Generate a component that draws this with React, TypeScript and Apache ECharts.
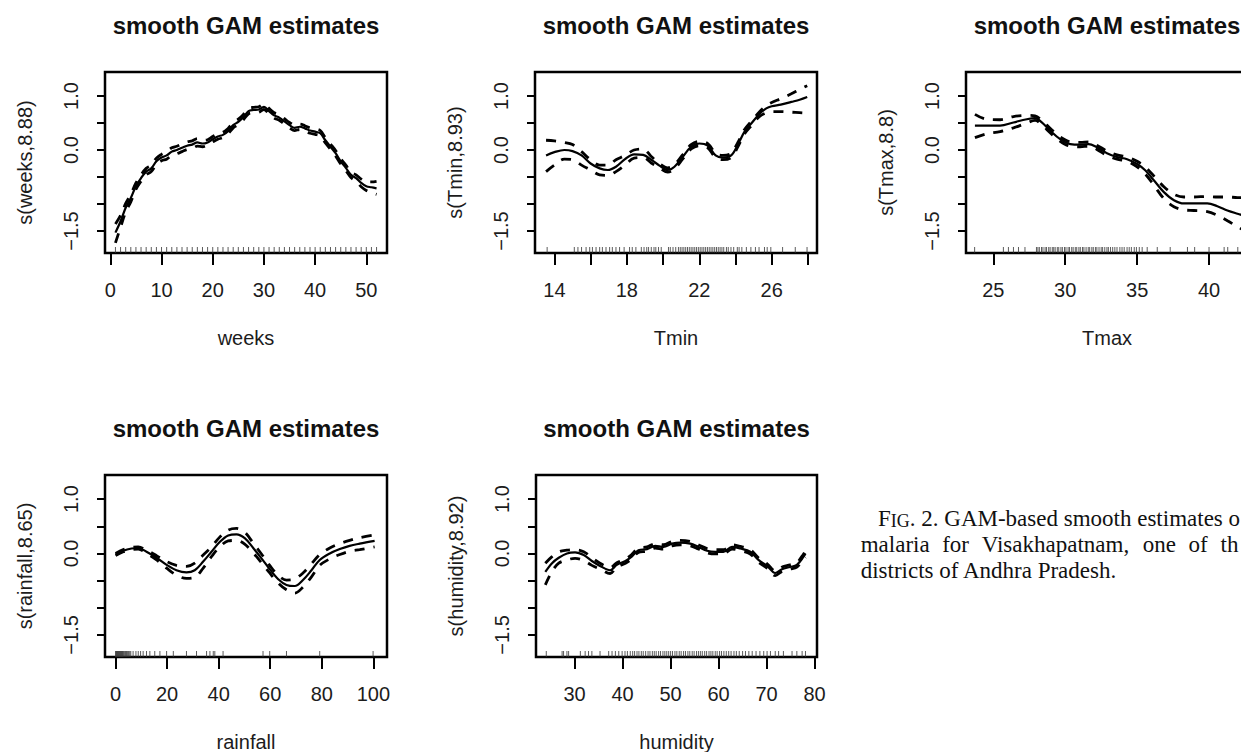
import React, { useEffect, useRef } from "react";
import * as echarts from "echarts";

// ---------- data ----------
const yTicks = [-1.5, -1, -0.5, 0, 0.5, 1];
const yLabels = [-1.5, 0, 1];

// weeks
const weeksX = [1,2,3,4,5,6,7,8,9,10,11,12,13,14,15,16,17,18,19,20,21,22,23,24,25,26,27,28,29,30,31,32,33,34,35,36,37,38,39,40,41,42,43,44,45,46,47,48,49,50,51,52];
const weeksFit = [-1.53,-1.32,-1.07,-0.89,-0.67,-0.52,-0.40,-0.34,-0.21,-0.14,-0.10,-0.03,0.00,0.04,0.08,0.10,0.14,0.12,0.14,0.20,0.25,0.28,0.35,0.46,0.52,0.61,0.72,0.74,0.75,0.80,0.72,0.64,0.60,0.53,0.46,0.41,0.43,0.40,0.36,0.34,0.31,0.18,0.06,-0.06,-0.21,-0.33,-0.46,-0.52,-0.61,-0.67,-0.69,-0.71];
const weeksUpper = [-1.37,-1.21,-0.99,-0.82,-0.61,-0.46,-0.34,-0.28,-0.15,-0.08,-0.03,0.04,0.07,0.11,0.15,0.17,0.21,0.18,0.19,0.25,0.30,0.33,0.40,0.51,0.57,0.66,0.77,0.79,0.80,0.85,0.77,0.69,0.65,0.58,0.51,0.46,0.48,0.45,0.41,0.39,0.36,0.23,0.11,-0.01,-0.16,-0.28,-0.41,-0.46,-0.54,-0.59,-0.59,-0.58];
const weeksLower = [-1.72,-1.43,-1.15,-0.96,-0.73,-0.58,-0.46,-0.40,-0.27,-0.20,-0.17,-0.10,-0.07,-0.03,0.01,0.03,0.07,0.06,0.09,0.15,0.20,0.23,0.30,0.41,0.47,0.56,0.67,0.69,0.70,0.75,0.67,0.59,0.55,0.48,0.41,0.36,0.38,0.35,0.31,0.29,0.26,0.13,0.01,-0.11,-0.26,-0.38,-0.51,-0.58,-0.68,-0.75,-0.79,-0.82];
const weeksRug = [1,2,3,4,5,6,7,8,9,10,11,12,13,14,15,16,17,18,19,20,21,22,23,24,25,26,27,28,29,30,31,32,33,34,35,36,37,38,39,40,41,42,43,44,45,46,47,48,49,50,51,52];
const weeksTicks = [0, 10, 20, 30, 40, 50];
const weeksLabels = [0, 10, 20, 30, 40, 50];

// Tmin
const tminX = [13.54,14.0,14.55,15.0,15.5,16.0,16.5,16.95,17.4,17.9,18.4,18.9,19.35,19.8,20.26,20.63,21.1,21.55,22.0,22.47,22.9,23.3,23.76,24.13,24.5,24.87,25.33,25.7,26.0,26.5,27.08,27.54,27.96];
const tminFit = [-0.10,-0.04,0.00,-0.02,-0.10,-0.25,-0.34,-0.37,-0.31,-0.17,-0.08,-0.09,-0.18,-0.29,-0.37,-0.31,-0.12,0.06,0.12,0.08,-0.10,-0.14,-0.10,0.10,0.34,0.49,0.67,0.77,0.81,0.84,0.89,0.93,0.98];
const tminUpper = [0.18,0.17,0.14,0.10,-0.03,-0.18,-0.28,-0.28,-0.18,-0.10,0.00,0.02,-0.12,-0.25,-0.33,-0.27,-0.08,0.10,0.16,0.12,-0.06,-0.10,-0.06,0.14,0.38,0.53,0.71,0.82,0.88,0.95,1.04,1.12,1.19];
const tminLower = [-0.40,-0.28,-0.17,-0.18,-0.28,-0.37,-0.46,-0.47,-0.40,-0.28,-0.15,-0.14,-0.24,-0.33,-0.41,-0.35,-0.16,0.02,0.08,0.04,-0.14,-0.18,-0.14,0.06,0.30,0.45,0.62,0.69,0.71,0.71,0.70,0.69,0.68];
const tminRug = [13.6,15.1,15.3,15.5,15.75,15.95,16.1,16.3,16.5,16.65,16.85,17.05,17.2,17.4,17.6,17.85,18.15,18.3,18.5,18.8,18.95,19.1,19.2,19.35,19.5,19.6,19.75,19.9,20.3,20.4,20.55,20.7,20.85,20.95,21.05,21.15,21.25,21.35,21.45,21.55,21.65,21.75,21.85,21.95,22.05,22.15,22.25,22.35,22.45,22.55,22.65,22.75,22.85,22.95,23.05,23.15,23.25,23.35,23.5,23.6,23.75,23.9,24.1,24.2,24.35,24.6,24.85,25.1,25.3,25.6,25.75,25.95,26.6,27.3,27.95];
const tminTicks = [14, 16, 18, 20, 22, 24, 26, 28];
const tminLabels = [14, 18, 22, 26];

// Tmax
const tmaxX = [23.72,24.53,25.47,26.4,27.33,27.9,28.37,28.95,29.65,30.35,31.05,31.63,32.2,32.9,33.6,34.3,35.0,35.58,36.16,36.86,37.56,38.26,38.95,39.88,40.58,41.28,41.98,42.5];
const tmaxFit = [0.45,0.45,0.45,0.51,0.57,0.59,0.51,0.36,0.20,0.11,0.10,0.11,0.05,-0.06,-0.13,-0.17,-0.26,-0.38,-0.56,-0.78,-0.93,-0.99,-0.99,-0.99,-1.04,-1.12,-1.18,-1.22];
const tmaxUpper = [0.66,0.57,0.56,0.62,0.64,0.63,0.55,0.40,0.24,0.15,0.14,0.15,0.09,-0.02,-0.09,-0.13,-0.21,-0.32,-0.48,-0.68,-0.82,-0.87,-0.87,-0.86,-0.87,-0.87,-0.88,-0.88];
const tmaxLower = [0.23,0.30,0.34,0.41,0.50,0.55,0.47,0.32,0.16,0.07,0.06,0.07,0.01,-0.10,-0.17,-0.21,-0.31,-0.45,-0.65,-0.90,-1.05,-1.11,-1.12,-1.14,-1.21,-1.31,-1.42,-1.50];
const tmaxRug = [23.7,25.7,26.05,26.4,26.75,27.2,28.0,28.1,28.2,28.35,28.45,28.6,28.7,28.85,28.95,29.1,29.2,29.3,29.45,29.55,29.7,29.8,29.95,30.05,30.2,30.3,30.45,30.55,30.7,30.8,30.95,31.05,31.2,31.3,31.45,31.6,31.7,31.85,31.95,32.1,32.2,32.35,32.5,32.6,32.75,32.9,33.0,33.15,33.3,33.45,33.6,33.8,33.95,34.1,34.3,34.45,34.6,34.8,34.95,35.15,35.35,35.7,36.4,37.3,38.5,39.0,40.0,41.05,41.3,42.0];
const tmaxTicks = [25, 30, 35, 40];
const tmaxLabels = [25, 30, 35, 40];

// rainfall
const rainX = [0,3,6.2,8.8,12,15.9,19.8,23.6,27.5,30.7,34,37.2,40.4,43.7,46.9,50.1,53.4,56.6,59.8,63,66.3,69.5,72.7,76,79.2,83.1,87,90.8,94.7,100.5];
const rainFit = [-0.02,0.05,0.09,0.10,0.03,-0.08,-0.21,-0.31,-0.35,-0.31,-0.15,0.03,0.21,0.33,0.35,0.28,0.10,-0.09,-0.29,-0.47,-0.58,-0.60,-0.49,-0.31,-0.12,0.00,0.08,0.14,0.18,0.23];
const rainUpper = [0.00,0.07,0.11,0.12,0.06,-0.04,-0.15,-0.22,-0.24,-0.18,-0.03,0.12,0.30,0.43,0.46,0.39,0.19,-0.01,-0.22,-0.40,-0.49,-0.47,-0.36,-0.19,-0.02,0.10,0.18,0.24,0.29,0.34];
const rainLower = [-0.04,0.03,0.07,0.08,0.00,-0.12,-0.27,-0.40,-0.46,-0.44,-0.27,-0.06,0.12,0.23,0.24,0.17,0.01,-0.17,-0.36,-0.54,-0.67,-0.73,-0.62,-0.43,-0.22,-0.10,-0.02,0.04,0.07,0.12];
const rainRug = [0,0.2,0.4,0.6,0.8,1,1.2,1.4,1.6,1.8,2,2.2,2.4,2.6,2.8,3,3.3,3.6,3.9,4.2,4.5,4.8,5.1,5.5,5.9,6.8,7.9,8.8,9.7,10.7,12.0,13.3,15.2,17.2,19.8,22.4,27.5,31.4,35.3,36.6,37.9,38.5,41.7,57.2,59.8,66.3,79.2,99.9];
const rainTicks = [0, 20, 40, 60, 80, 100];
const rainLabels = [0, 20, 40, 60, 80, 100];

// humidity
const humX = [23.9,25.3,26.7,28.4,30.1,31.9,33.6,35.3,37.4,38.8,40.6,41.9,43.3,45.1,46.8,48.5,50.3,52.0,54.1,55.8,57.6,59.3,61.0,62.8,64.5,66.6,68.3,70.1,71.8,73.2,74.9,76.3,77.7,78.1];
const humFit = [-0.34,-0.18,-0.08,0.00,0.02,-0.03,-0.14,-0.23,-0.31,-0.21,-0.14,-0.06,0.06,0.08,0.14,0.12,0.18,0.20,0.18,0.12,0.05,0.03,0.03,0.12,0.09,0.03,-0.12,-0.23,-0.36,-0.29,-0.25,-0.21,-0.06,0.00];
const humUpper = [-0.18,-0.06,0.03,0.06,0.07,0.03,-0.08,-0.18,-0.26,-0.17,-0.10,-0.02,0.10,0.12,0.18,0.16,0.22,0.24,0.22,0.16,0.09,0.07,0.07,0.16,0.13,0.07,-0.08,-0.19,-0.32,-0.25,-0.21,-0.17,-0.01,0.05];
const humLower = [-0.58,-0.33,-0.18,-0.12,-0.09,-0.13,-0.22,-0.29,-0.37,-0.25,-0.18,-0.10,0.02,0.04,0.10,0.08,0.14,0.16,0.14,0.08,0.01,-0.01,-0.01,0.08,0.05,-0.01,-0.16,-0.27,-0.41,-0.33,-0.29,-0.25,-0.11,-0.07];
const humRug = [24.1,27.4,27.7,28.4,28.75,31.2,32.2,32.9,33.6,35.3,37.1,37.8,38.5,39.2,39.9,40.5,41.0,41.6,42.1,42.5,43.0,43.4,43.9,44.3,44.8,45.3,45.7,46.2,46.6,47.0,47.5,47.9,48.4,48.8,49.2,49.6,50.0,50.4,50.9,51.3,51.8,52.2,52.7,53.1,53.6,54.0,54.5,54.9,55.4,55.8,56.2,56.6,57.1,57.5,58.0,58.4,58.8,59.3,59.7,60.2,60.6,61.1,61.6,62.1,62.6,63.2,63.7,64.3,65.0,65.6,66.3,67.0,67.8,68.6,69.4,70.1,70.8,71.8,72.5,73.5,75.3,76.3,77.4,78.1];
const humTicks = [30, 40, 50, 60, 70, 80];
const humLabels = [30, 40, 50, 60, 70, 80];

const titleText = "smooth GAM estimates";
// the caption is cut at the right edge of the page in the reference
const captionLine1 = "{a|F}{b|IG}{a|. 2. GAM-based smooth estimates o}";
const captionLine2 = ["malaria", "for", "Visakhapatnam,", "one", "of", "th"];
const captionLine3 = "districts of Andhra Pradesh.";

// ---------- layout ----------
const Y_MIN = -1.907;
const Y_MAX = 1.444;
const SANS = "Liberation Sans, Arial, Helvetica, sans-serif";
const SERIF = "Liberation Serif, Times New Roman, serif";
const LABEL_COLOR = "#1c1c1c";

const panels = [
  { x: weeksX, fit: weeksFit, up: weeksUpper, lo: weeksLower, rug: weeksRug, ticks: weeksTicks, labels: weeksLabels,
    xName: "weeks", yName: "s(weeks,8.88)", xMin: -1.04, xMax: 54.04, left: 105, top: 72, width: 282, height: 181 },
  { x: tminX, fit: tminFit, up: tminUpper, lo: tminLower, rug: tminRug, ticks: tminTicks, labels: tminLabels,
    xName: "Tmin", yName: "s(Tmin,8.93)", xMin: 12.93, xMax: 28.5, left: 535, top: 72, width: 282, height: 181 },
  { x: tmaxX, fit: tmaxFit, up: tmaxUpper, lo: tmaxLower, rug: tmaxRug, ticks: tmaxTicks, labels: tmaxLabels,
    xName: "Tmax", yName: "s(Tmax,8.8)", xMin: 23.1, xMax: 42.71, left: 966, top: 72, width: 282, height: 181 },
  { x: rainX, fit: rainFit, up: rainUpper, lo: rainLower, rug: rainRug, ticks: rainTicks, labels: rainLabels,
    xName: "rainfall", yName: "s(rainfall,8.65)", xMin: -4.1, xMax: 105.3, left: 105, top: 475, width: 282, height: 182 },
  { x: humX, fit: humFit, up: humUpper, lo: humLower, rug: humRug, ticks: humTicks, labels: humLabels,
    xName: "humidity", yName: "s(humidity,8.92)", xMin: 21.96, xMax: 80.5, left: 536, top: 475, width: 281, height: 182 },
];

function fmtY(v: number) {
  return (v < 0 ? "\u2212" : "") + Math.abs(v).toFixed(1);
}

function buildOption() {
  const grid: any[] = [];
  const xAxis: any[] = [];
  const yAxis: any[] = [];
  const series: any[] = [];
  const graphic: any[] = [];

  panels.forEach((p, i) => {
    grid.push({
      left: p.left, top: p.top, width: p.width, height: p.height,
      show: true, borderColor: "#000", borderWidth: 2.5, backgroundColor: "rgba(0,0,0,0)",
      containLabel: false, outerBoundsMode: "none",
    });
    xAxis.push({
      gridIndex: i, type: "value", min: p.xMin, max: p.xMax, position: "bottom",
      axisLine: { show: false, onZero: false },
      axisTick: { show: true, inside: false, length: 12, lineStyle: { color: "#000", width: 2 }, customValues: p.ticks },
      axisLabel: { show: true, customValues: p.labels, fontSize: 20, color: LABEL_COLOR, fontFamily: SANS, margin: 27 },
      splitLine: { show: false },
      name: p.xName, nameLocation: "middle", nameGap: 75,
      nameTextStyle: { fontSize: 20, color: LABEL_COLOR, fontFamily: SANS },
    });
    yAxis.push({
      gridIndex: i, type: "value", min: Y_MIN, max: Y_MAX, position: "left",
      axisLine: { show: false, onZero: false },
      axisTick: { show: true, inside: false, length: 8, lineStyle: { color: "#000", width: 2 }, customValues: yTicks },
      axisLabel: { show: true, customValues: yLabels, rotate: 90, fontSize: 20, color: LABEL_COLOR, fontFamily: SANS, margin: 24, formatter: fmtY },
      splitLine: { show: false },
      name: p.yName, nameLocation: "middle", nameGap: 70,
      nameTextStyle: { fontSize: 20, color: LABEL_COLOR, fontFamily: SANS },
    });
    const pts = (ys: number[]) => p.x.map((xv, k) => [xv, ys[k]]);
    series.push({
      type: "line", xAxisIndex: i, yAxisIndex: i, data: pts(p.fit), symbol: "none", showSymbol: false,
      smooth: 0.35, silent: true, z: 4, lineStyle: { color: "#000", width: 2.2 },
    });
    series.push({
      type: "line", xAxisIndex: i, yAxisIndex: i, data: pts(p.up), symbol: "none", showSymbol: false,
      smooth: 0.35, silent: true, z: 3, lineStyle: { color: "#000", width: 2.8, type: [10, 9] },
    });
    series.push({
      type: "line", xAxisIndex: i, yAxisIndex: i, data: pts(p.lo), symbol: "none", showSymbol: false,
      smooth: 0.35, silent: true, z: 3, lineStyle: { color: "#000", width: 2.8, type: [10, 9] },
    });
    series.push({
      type: "scatter", xAxisIndex: i, yAxisIndex: i, data: p.rug.map((v) => [v, Y_MIN]),
      symbol: "rect", symbolSize: [1, 6], symbolOffset: [0, -3], clip: false, silent: true, z: 2,
      itemStyle: { color: "#333" },
    });
    graphic.push({
      type: "text", x: p.left + p.width / 2, y: p.top - 47, silent: true,
      style: {
        text: titleText, fontSize: 24, fontWeight: "bold", fontFamily: SANS, fill: "#111",
        align: "center", verticalAlign: "middle", textAlign: "center", textVerticalAlign: "middle",
      },
    });
  });

  // caption
  graphic.push({
    type: "text", x: 878, y: 518, silent: true,
    style: {
      text: captionLine1, fontSize: 23, fontFamily: SERIF, fill: "#111",
      align: "left", verticalAlign: "middle", textAlign: "left", textVerticalAlign: "middle",
      rich: {
        a: { fontSize: 23, fontFamily: SERIF, fill: "#111", verticalAlign: "bottom" },
        b: { fontSize: 18, fontFamily: SERIF, fill: "#111", verticalAlign: "bottom" },
      },
    },
  });
  const line2X = [860.7, 942.2, 981.7, 1142.7, 1188.6, 1220.5];
  captionLine2.forEach((w, k) => {
    graphic.push({
      type: "text", x: line2X[k], y: 544, silent: true,
      style: { text: w, fontSize: 23, fontFamily: SERIF, fill: "#111", align: "left", verticalAlign: "middle", textAlign: "left", textVerticalAlign: "middle" },
    });
  });
  graphic.push({
    type: "text", x: 860.7, y: 570, silent: true,
    style: { text: captionLine3, fontSize: 23, fontFamily: SERIF, fill: "#111", align: "left", verticalAlign: "middle", textAlign: "left", textVerticalAlign: "middle" },
  });

  return {
    animation: false,
    backgroundColor: "#fff",
    grid, xAxis, yAxis, series, graphic,
  };
}

export default function App() {
  const ref = useRef<HTMLDivElement>(null);
  useEffect(() => {
    if (!ref.current) return;
    const chart = echarts.init(ref.current, null, { renderer: "svg" });
    chart.setOption(buildOption() as any);
    return () => chart.dispose();
  }, []);
  return (
    <div
      ref={ref}
      style={{ position: "fixed", left: 0, top: 0, width: 1241, height: 752, background: "#fff" }}
    />
  );
}
